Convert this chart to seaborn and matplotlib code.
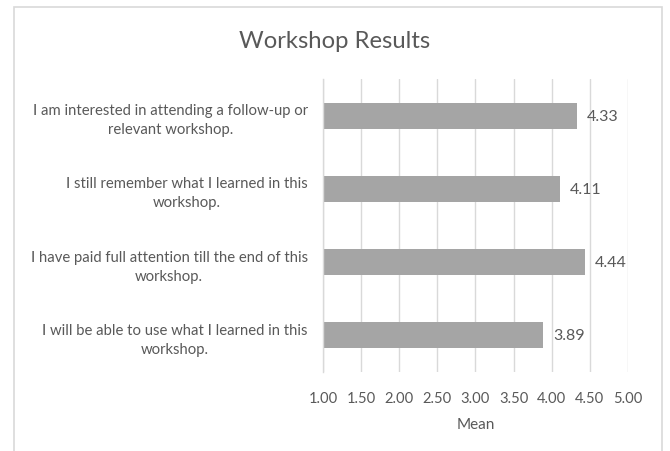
import matplotlib
matplotlib.use("Agg")
import matplotlib.pyplot as plt
import seaborn as sns
import pandas as pd
from matplotlib.patches import Rectangle

categories = [
    "I am interested in attending a follow-up or\nrelevant workshop.",
    "I still remember what I learned in this\nworkshop.",
    "I have paid full attention till the end of this\nworkshop.",
    "I will be able to use what I learned in this\nworkshop.",
]
means = [4.33, 4.11, 4.44, 3.89]
xticks = [1.00, 1.50, 2.00, 2.50, 3.00, 3.50, 4.00, 4.50, 5.00]

sns.set_theme(style="white")
plt.rcParams['font.family'] = ['Lato', 'DejaVu Sans']

TXT = "#595959"
GRID = "#D9D9D9"
BAR = "#A5A5A5"

df = pd.DataFrame({"Category": categories, "Mean": means})

W, H = 670, 452
fig = plt.figure(figsize=(W / 100, H / 100), dpi=100)
ax = fig.add_axes([323 / W, 1 - 373 / H, (628 - 323) / W, (373 - 80) / H])

sns.barplot(data=df, y="Category", x="Mean", orient="h", color=BAR,
            width=0.355, ax=ax, saturation=1)
for p in ax.patches:
    p.set_edgecolor("none")

ax.set_xlim(1, 5)
ax.set_ylim(3.5, -0.5)
ax.set_xticks(xticks)
ax.set_xticklabels([f"{v:.2f}" for v in xticks], color=TXT, fontsize=10.6)
ax.tick_params(axis="x", length=0, pad=14)
ax.tick_params(axis="y", length=0, pad=11)
for lab in ax.get_yticklabels():
    lab.set_multialignment("center")
    lab.set_color(TXT)
    lab.set_fontsize(10.7)
    lab.set_linespacing(1.45)

ax.grid(axis="x", color=GRID, linewidth=1)
ax.set_axisbelow(True)
for s in ["top", "right", "bottom"]:
    ax.spines[s].set_visible(False)
ax.spines["left"].set_color(GRID)
ax.spines["left"].set_linewidth(1)

ax.set_ylabel("")
ax.set_xlabel("Mean", color=TXT, fontsize=11, labelpad=8)

ax.bar_label(ax.containers[0], labels=[f"{v:.2f}" for v in means],
             padding=7, color=TXT, fontsize=11.5)

fig.text(335 / W, 1 - 42 / H, "Workshop Results", ha="center", va="center",
         color=TXT, fontsize=17.2)

fig.patches.append(Rectangle((13.5 / W, -0.1), (662 - 13.5) / W, 1 - 7.5 / H + 0.1,
                             transform=fig.transFigure, fill=False,
                             edgecolor=GRID, linewidth=1.2))

fig.savefig("out.png", dpi=100, facecolor="white")
